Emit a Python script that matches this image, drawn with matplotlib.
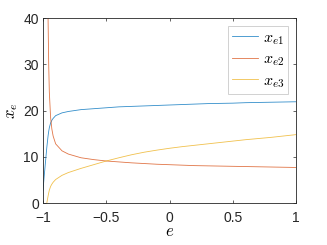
import numpy as np
import matplotlib
matplotlib.use("Agg")
import matplotlib.pyplot as plt

plt.rcParams['font.family'] = ['Liberation Sans', 'DejaVu Sans']
plt.rcParams['mathtext.fontset'] = 'cm'

e_vals = [-1.0, -0.99, -0.98, -0.97, -0.96, -0.955, -0.95, -0.94, -0.93, -0.92, -0.9, -0.85, -0.8,
          -0.7, -0.6, -0.5, -0.4, -0.3, -0.2, -0.1, 0.0, 0.1, 0.2, 0.3, 0.4, 0.5, 0.6, 0.7, 0.8, 0.9, 1.0]
xe1 = [2.8, 6.0, 9.0, 12.0, 14.5, 15.5, 16.3, 17.3, 17.9, 18.3, 18.9, 19.5, 19.8,
       20.2, 20.4, 20.6, 20.8, 20.9, 21.0, 21.1, 21.2, 21.3, 21.4, 21.5, 21.55, 21.6, 21.7, 21.75, 21.8, 21.85, 21.9]
xe2 = [120.0, 100.0, 80.0, 60.0, 40.0, 30.0, 24.0, 18.5, 16.0, 14.5, 12.8, 11.3, 10.6,
       9.8, 9.4, 9.1, 8.9, 8.7, 8.55, 8.4, 8.3, 8.2, 8.1, 8.05, 8.0, 7.95, 7.9, 7.85, 7.8, 7.75, 7.7]
xe3 = [-3.0, -2.0, -1.0, 0.0, 1.5, 2.2, 2.8, 3.6, 4.1, 4.5, 5.1, 6.0, 6.6,
       7.5, 8.3, 9.1, 9.8, 10.45, 11.0, 11.45, 11.85, 12.2, 12.5, 12.8, 13.1, 13.4, 13.7, 13.95, 14.2, 14.5, 14.8]
labels = [r'$x_{e1}$', r'$x_{e2}$', r'$x_{e3}$']
colors = ['#0072BD', '#D95319', '#EDB120']

fig = plt.figure(figsize=(3.27, 2.45), dpi=100)
ax = fig.add_axes([0.1315, 0.171, 0.774, 0.7555])
for ys, lab, c in zip([xe1, xe2, xe3], labels, colors):
    ax.plot(e_vals, ys, color=c, lw=0.6, alpha=0.8, label=lab)

ax.set_xlim(-1, 1)
ax.set_ylim(0, 40)
ax.set_xticks([-1, -0.5, 0, 0.5, 1])
ax.set_xticklabels(['\u22121', '\u22120.5', '0', '0.5', '1'])
ax.set_yticks([0, 10, 20, 30, 40])
gray = '#262626'
ax.tick_params(direction='in', length=2.5, width=0.5, colors=gray, labelsize=10,
               top=True, right=True, pad=3)
ax.tick_params(axis='x', pad=6)
for s in ax.spines.values():
    s.set_color(gray)
    s.set_linewidth(0.6)
ax.set_xlabel(r'$e$', fontsize=12, labelpad=-1)
ax.set_ylabel(r'$x_e$', fontsize=12, labelpad=2)
leg = ax.legend(loc='upper right', fontsize=11.5, frameon=True, fancybox=False,
                edgecolor='#bdbdbd', handlelength=1.6, handletextpad=0.3,
                borderpad=0.25, labelspacing=0.3, borderaxespad=0.5)
leg.get_frame().set_linewidth(0.6)
fig.savefig('out.png', dpi=100)
